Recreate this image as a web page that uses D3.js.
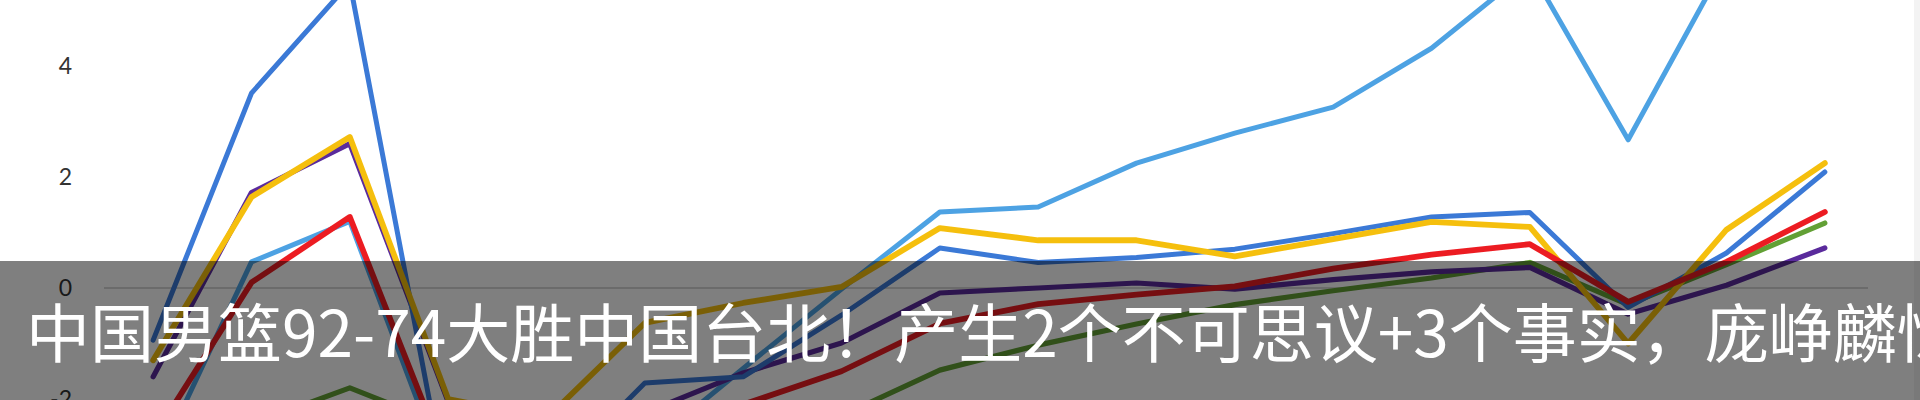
<!DOCTYPE html>
<html>
<head>
<meta charset="utf-8">
<script src="https://cdn.jsdelivr.net/npm/d3@7/dist/d3.min.js"></script>
<style>
  html, body { margin: 0; padding: 0; background: #ffffff; overflow: hidden; }
  svg { display: block; }
</style>
</head>
<body>
<svg id="chart" width="1920" height="400"></svg>
<script>
// ---- data ----
const categories = d3.range(1, 19);           // 18 time points
const yTicks = [4, 2, 0, -2];
const titleText = "中国男篮92-74大胜中国台北！产生2个不可思议+3个事实，庞峥麟惊艳全场";

const seriesNames = ["lightBlue", "green", "purple", "blue", "yellow", "red"];
const lightBlue = [-3.3, 0.47, 1.2, -3.5, -3.8, -2.9, -1.45, -0.02, 1.37, 1.46, 2.25, 2.79, 3.26, 4.32, 5.75, 2.67, 5.9, 6.3];
const green     = [-3.0, -2.45, -1.8, -2.5, -3.2, -3.0, -2.7, -2.3, -1.48, -1.03, -0.65, -0.3, -0.05, 0.18, 0.46, -0.3, 0.42, 1.17];
const purple    = [-1.6, 1.72, 2.6, -2.05, -2.6, -2.25, -1.53, -0.99, -0.09, 0.0, 0.09, -0.02, 0.15, 0.29, 0.37, -0.47, 0.05, 0.72];
const blue      = [-0.94, 3.51, 5.5, -3.8, -3.5, -1.71, -1.6, -0.49, 0.72, 0.46, 0.55, 0.7, 0.98, 1.28, 1.36, -0.35, 0.63, 2.09];
const yellow    = [-1.3, 1.64, 2.72, -2.0, -2.35, -0.63, -0.27, 0.02, 1.08, 0.86, 0.86, 0.57, 0.88, 1.19, 1.1, -1.0, 1.05, 2.25];
const red       = [-2.7, 0.1, 1.28, -3.2, -3.0, -2.6, -2.1, -1.5, -0.64, -0.29, -0.12, 0.03, 0.35, 0.6, 0.79, -0.25, 0.47, 1.37];

const seriesValues = { lightBlue, green, purple, blue, yellow, red };
const seriesColors = {
  lightBlue: "#4ea2e3", green: "#62a034", purple: "#5a2b9c",
  blue: "#3a79d6", yellow: "#f5bf0f", red: "#ec1d23"
};
const seriesWidths = { lightBlue: 5, green: 5.2, purple: 5.2, blue: 5, yellow: 5.8, red: 5.8 };

// ---- layout ----
const svg = d3.select("#chart");
const W = 1920, H = 400;

const x = d3.scalePoint().domain(categories).range([104, 1874]).padding(0.5);
const y = d3.scaleLinear().domain([-2, 4]).range([399, 66]);

svg.append("defs").append("filter").attr("id", "soft")
  .append("feGaussianBlur").attr("stdDeviation", 0.55);

// zero axis line
svg.append("line")
  .attr("x1", x.range()[0]).attr("x2", x.range()[1] - 6)
  .attr("y1", y(0)).attr("y2", y(0))
  .attr("stroke", "#c8c8c8").attr("stroke-width", 1.6);

// y axis labels
const yAxis = d3.axisLeft(y).tickValues(yTicks).tickSize(0).tickPadding(0)
  .tickFormat(d3.format("d"));
const gy = svg.append("g").attr("transform", "translate(72,0)").call(yAxis);
gy.select(".domain").remove();
gy.selectAll("text")
  .attr("font-family", "Lato, 'Open Sans', sans-serif")
  .attr("font-size", 23)
  .attr("fill", "#333333")
  .text(d => d < 0 ? "-" + Math.abs(d) : d);

// lines
const line = d3.line()
  .x((d, i) => x(categories[i]))
  .y(d => y(d));

const gl = svg.append("g").attr("filter", "url(#soft)");
seriesNames.forEach(name => {
  gl.append("path")
    .datum(seriesValues[name])
    .attr("d", line)
    .attr("fill", "none")
    .attr("stroke", seriesColors[name])
    .attr("stroke-width", seriesWidths[name])
    .attr("stroke-linejoin", "round")
    .attr("stroke-linecap", "round");
});

// faint right edge of the screenshot
svg.append("rect").attr("x", 1914).attr("y", 0).attr("width", 6).attr("height", H)
  .attr("fill", "#f3f3f3");

// caption banner
svg.append("rect").attr("x", 0).attr("y", 261).attr("width", W).attr("height", H - 261)
  .attr("fill", "rgba(0,0,0,0.5)");

svg.append("text")
  .attr("x", 26).attr("y", 357)
  .attr("font-family", "'Noto Sans CJK SC', sans-serif")
  .attr("font-size", 64)
  .attr("fill", "#ffffff")
  .text(titleText);
</script>
</body>
</html>
